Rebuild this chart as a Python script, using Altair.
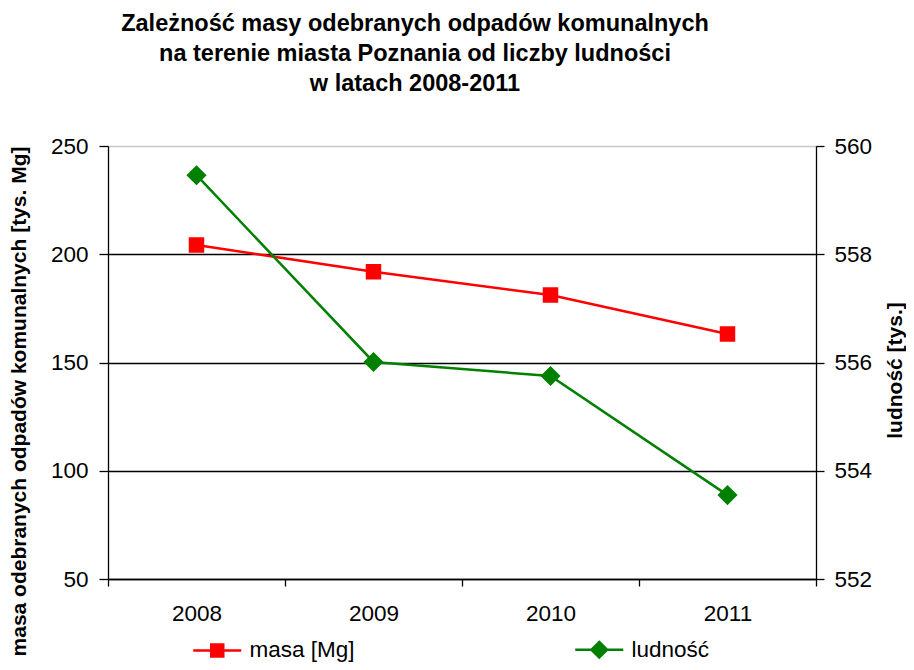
import altair as alt
import pandas as pd

years = ["2008", "2009", "2010", "2011"]
masa = [204.3, 191.9, 181.2, 163.2]
ludnosc = [559.46, 556.01, 555.75, 553.55]
series_names = ["masa [Mg]", "ludność"]
series_colors = ["#ff0000", "#008000"]
left_ticks = [50, 100, 150, 200, 250]
right_ticks = [552, 554, 556, 558, 560]
title_lines = [
    "Zależność masy odebranych odpadów komunalnych",
    "na terenie miasta Poznania od liczby ludności",
    "w latach 2008-2011",
]

rows = []
for y, v in zip(years, masa):
    rows.append({"year": y, "series": series_names[0], "value": v})
for y, v in zip(years, ludnosc):
    rows.append({"year": y, "series": series_names[1], "value": v})
df = pd.DataFrame(rows)

FONT = "Liberation Sans"
LBL = 22.5
SQ = "M-4,0H4M-1,-1H1V1H-1Z"
DIA = "M-4,0H4M0,-1.3L1.3,0L0,1.3L-1.3,0Z"

legend = alt.Legend(
    title=None,
    orient="none",
    legendX=98,
    legendY=492,
    direction="horizontal",
    symbolSize=144,
    symbolStrokeWidth=2.5,
    symbolStrokeColor=alt.ExprRef(expr="scale('color', datum.value)"),
    symbolFillColor=alt.ExprRef(expr="scale('color', datum.value)"),
    symbolOpacity=1,
    labelFont=FONT,
    labelFontSize=LBL,
    labelColor="black",
    labelOffset=21,
    columnPadding=215,
    padding=0,
)

color = alt.Color(
    "series:N",
    scale=alt.Scale(domain=series_names, range=series_colors),
    legend=legend,
)
shape = alt.Shape(
    "series:N",
    scale=alt.Scale(domain=series_names, range=[SQ, DIA]),
    legend=legend,
)

x = alt.X(
    "year:O",
    scale=alt.Scale(type="band", paddingInner=0, paddingOuter=0),
    axis=alt.Axis(
        title=None,
        labelAngle=0,
        tickBand="extent",
        grid=False,
        domainColor="black",
        domainWidth=1.3,
        tickColor="black",
        tickWidth=1.3,
        tickSize=7,
        labelFont=FONT,
        labelFontSize=LBL,
        labelColor="black",
        labelPadding=16,
    ),
)

left_axis = alt.Axis(
    title="masa odebranych odpadów komunalnych [tys. Mg]",
    values=left_ticks,
    grid=True,
    gridColor={"condition": {"test": "datum.value == 250", "value": "#c8c8c8"}, "value": "black"},
    gridWidth=1.3,
    domainColor="black",
    domainWidth=1.3,
    tickColor="black",
    tickWidth=1.3,
    tickSize=9,
    labelFont=FONT,
    labelFontSize=LBL,
    labelColor="black",
    labelPadding=11,
    titleFont=FONT,
    titleFontSize=21,
    titleFontWeight="bold",
    titleColor="black",
    titleAngle=270,
    titleAlign="center",
    titleBaseline="middle",
    titleX=-89,
    titleY=255,
)

right_axis = alt.Axis(
    title="ludność [tys.]",
    orient="right",
    values=right_ticks,
    grid=False,
    domainColor="black",
    domainWidth=1.3,
    tickColor="black",
    tickWidth=1.3,
    tickSize=8,
    labelFont=FONT,
    labelFontSize=LBL,
    labelColor="black",
    labelPadding=10,
    titleFont=FONT,
    titleFontSize=21,
    titleFontWeight="bold",
    titleColor="black",
    titleAngle=270,
    titleAlign="center",
    titleBaseline="middle",
    titleX=79,
    titleY=224,
)

left_base = alt.Chart(df).transform_filter(alt.datum.series == series_names[0]).encode(
    x=x,
    y=alt.Y("value:Q", scale=alt.Scale(domain=[50, 250], nice=False), axis=left_axis),
    color=color,
)
right_base = alt.Chart(df).transform_filter(alt.datum.series == series_names[1]).encode(
    x=x,
    y=alt.Y("value:Q", scale=alt.Scale(domain=[552, 560], nice=False, zero=False), axis=right_axis),
    color=color,
)

left = alt.layer(
    left_base.mark_line(strokeWidth=2.5),
    left_base.mark_point(filled=True, size=240, opacity=1).encode(shape=shape),
)
right = alt.layer(
    right_base.mark_line(strokeWidth=2.5),
    right_base.mark_point(filled=True, size=240, opacity=1).encode(shape=shape),
)

chart = (
    alt.layer(left, right)
    .resolve_scale(y="independent")
    .properties(
        width=708,
        height=433,
        padding={"left": 100, "top": 138, "right": 90, "bottom": 83},
        autosize=alt.AutoSizeParams(type="none"),
        title=alt.TitleParams(
            text=title_lines,
            font=FONT,
            fontSize=23.5,
            fontWeight="bold",
            color="black",
            lineHeight=30,
            anchor="middle",
            frame="group",
            dx=-47,
            offset=40,
        ),
    )
    .configure_view(stroke=None)
    .configure(background="white")
)

chart.save("out.html", embed_options={"renderer": "svg", "actions": False})
